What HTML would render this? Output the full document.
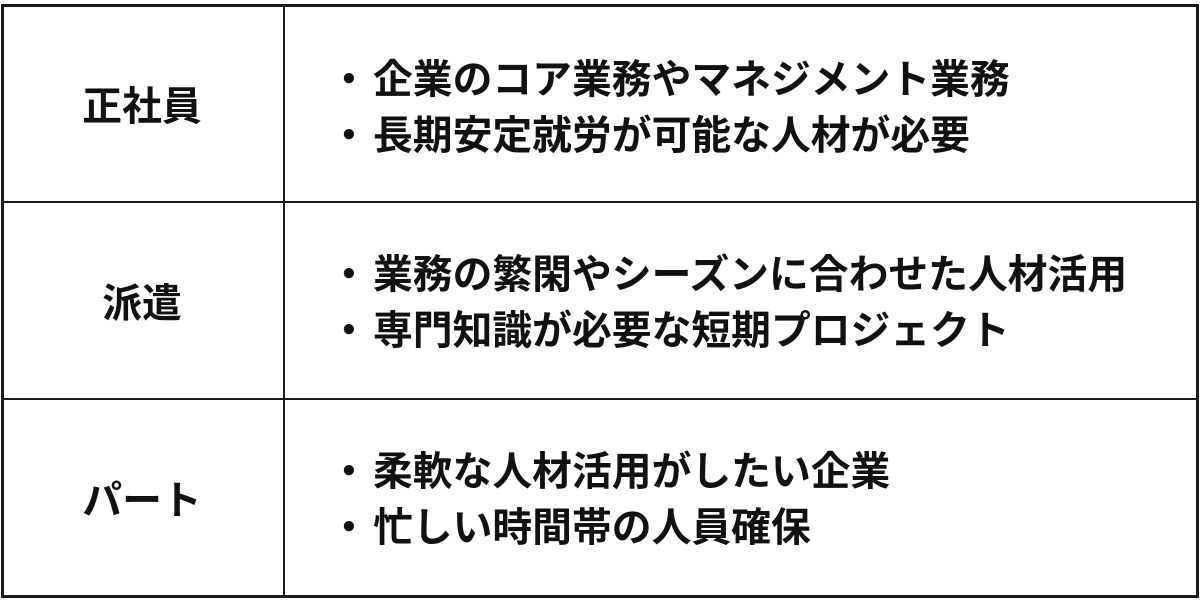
<!DOCTYPE html>
<html><head><meta charset="utf-8"><style>
body{margin:0;width:1200px;height:600px;background:#fff;position:relative;overflow:hidden;font-family:"Liberation Sans","Noto Sans CJK JP",sans-serif;font-weight:bold;color:#111;}
.l{position:absolute;background:#1a1a1a;}
.t{position:absolute;font-size:39.8px;line-height:40px;white-space:nowrap;}
.c{width:284px;left:0;text-align:center;}
</style></head><body>
<div class="l" style="left:1px;top:4px;width:1198px;height:3px"></div>
<div class="l" style="left:1px;top:595px;width:1198px;height:3px"></div>
<div class="l" style="left:1px;top:4px;width:3px;height:594px"></div>
<div class="l" style="left:1196px;top:4px;width:3px;height:594px"></div>
<div class="l" style="left:283px;top:4px;width:2px;height:594px"></div>
<div class="l" style="left:1px;top:201px;width:1198px;height:2px"></div>
<div class="l" style="left:1px;top:398px;width:1198px;height:2px"></div>

<div class="t c" style="top:87px">正社員</div>
<div class="t c" style="top:284px">派遣</div>
<div class="t c" style="top:481px">パート</div>

<div class="t" style="left:329px;top:60px">・</div><div class="t" style="left:373px;top:60px">企業のコア業務やマネジメント業務</div>
<div class="t" style="left:329px;top:116px">・</div><div class="t" style="left:373px;top:116px">長期安定就労が可能な人材が必要</div>
<div class="t" style="left:329px;top:255px">・</div><div class="t" style="left:373px;top:255px">業務の繁閑やシーズンに合わせた人材活用</div>
<div class="t" style="left:329px;top:311px">・</div><div class="t" style="left:373px;top:311px">専門知識が必要な短期プロジェクト</div>
<div class="t" style="left:329px;top:452px">・</div><div class="t" style="left:373px;top:452px">柔軟な人材活用がしたい企業</div>
<div class="t" style="left:329px;top:508px">・</div><div class="t" style="left:373px;top:508px">忙しい時間帯の人員確保</div>
</body></html>
